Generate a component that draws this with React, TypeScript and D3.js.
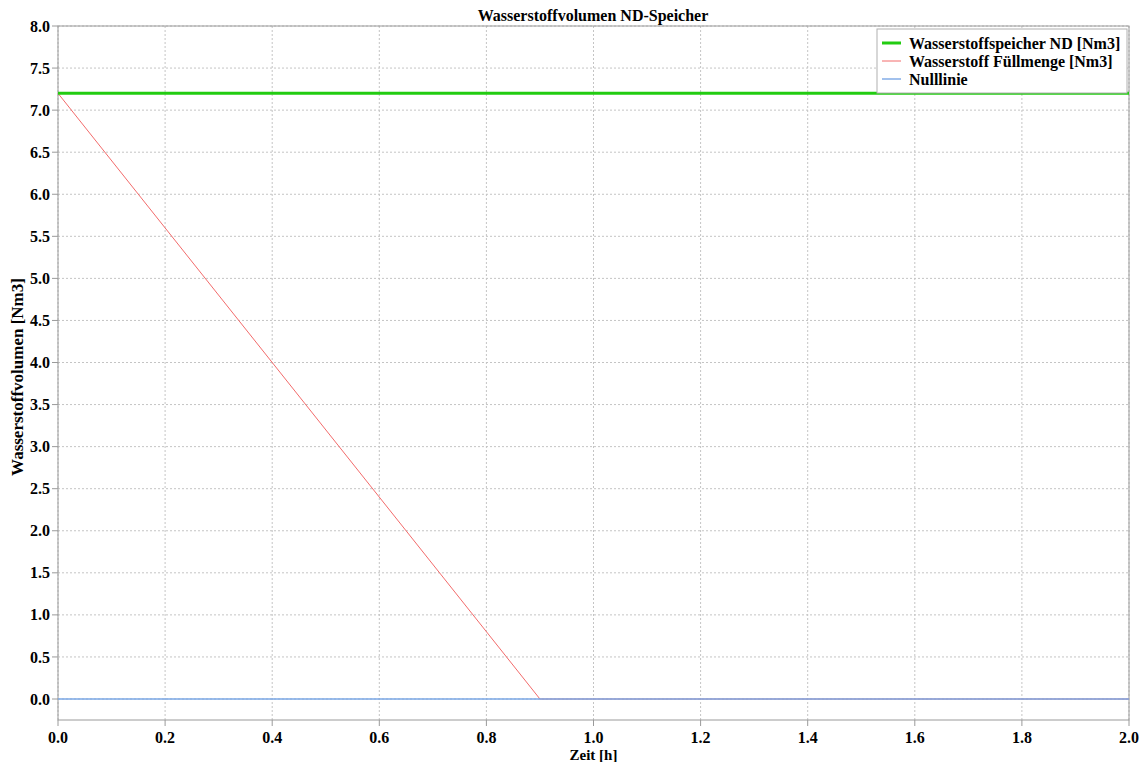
import * as d3 from 'd3';

const timeH = [0, 0.9, 2.0];
const speicherND = [7.2, 7.2, 7.2];
const fuellmenge = [7.2, 0, 0];
const nulllinie = [0, 0, 0];

const xTicks = [0, 0.2, 0.4, 0.6, 0.8, 1.0, 1.2, 1.4, 1.6, 1.8, 2.0];
const yTicks = [0, 0.5, 1, 1.5, 2, 2.5, 3, 3.5, 4, 4.5, 5, 5.5, 6, 6.5, 7, 7.5, 8];

const series = [
  { name: 'Wasserstoffspeicher ND [Nm3]', values: speicherND, color: '#22cc11', width: 3 },
  { name: 'Wasserstoff Füllmenge [Nm3]', values: fuellmenge, color: '#f26b6b', width: 1 },
  { name: 'Nulllinie', values: nulllinie, color: '#7aa7e6', width: 1.4 },
];

const W = 1146;
const H = 762;
const font = '"Liberation Serif", "Times New Roman", serif';

export default function App() {
  const left = 58, right = 1129, top = 26, bottom = 720;
  const x = d3.scaleLinear().domain([0, 2]).range([left, right]);
  const y = d3.scaleLinear().domain([0, 8]).range([699, top]);

  const line = d3.line<number>()
    .x((_, i) => x(timeH[i]))
    .y((d) => y(d));

  // red first so the zero line sits on top of it after 0.9 h
  const drawOrder = [series[1], series[2], series[0]];

  return (
    <div style={{ position: 'fixed', left: 0, top: 0 }}>
      <svg width={W} height={H} style={{ display: 'block', background: '#fff' }} fontFamily={font}>
        <text x={593} y={21} textAnchor="middle" fontWeight="bold" fontSize={16}>
          Wasserstoffvolumen ND-Speicher
        </text>

        {/* grid */}
        {xTicks.map((t) => (
          <line key={'gx' + t} x1={x(t)} x2={x(t)} y1={top} y2={bottom}
            stroke="#c4c4c4" strokeDasharray="2,2" strokeWidth={1} />
        ))}
        {yTicks.map((t) => (
          <line key={'gy' + t} x1={left} x2={right} y1={y(t)} y2={y(t)}
            stroke="#c4c4c4" strokeDasharray="2,2" strokeWidth={1} />
        ))}

        {/* frame */}
        <rect x={left} y={top} width={right - left} height={bottom - top}
          fill="none" stroke="#9a9a9a" strokeWidth={1} />

        {/* ticks */}
        {yTicks.map((t) => (
          <g key={'ty' + t}>
            <line x1={left - 6} x2={left} y1={y(t)} y2={y(t)} stroke="#9a9a9a" />
            <text x={left - 8} y={y(t)} dy="0.35em" textAnchor="end" fontWeight="bold" fontSize={16}>
              {t.toFixed(1)}
            </text>
          </g>
        ))}
        {xTicks.map((t) => (
          <g key={'tx' + t}>
            <line x1={x(t)} x2={x(t)} y1={bottom} y2={bottom + 6} stroke="#9a9a9a" />
            <text x={x(t)} y={bottom + 23} textAnchor="middle" fontWeight="bold" fontSize={16}>
              {t.toFixed(1)}
            </text>
          </g>
        ))}

        <text x={(left + right) / 2} y={760} textAnchor="middle" fontWeight="bold" fontSize={15}>
          Zeit [h]
        </text>
        <text transform={`translate(23, ${(top + bottom) / 2 + 4}) rotate(-90)`} textAnchor="middle"
          fontWeight="bold" fontSize={17}>
          Wasserstoffvolumen [Nm3]
        </text>

        {/* lines */}
        {drawOrder.map((s) => (
          <path key={s.name} d={line(s.values) || ''} fill="none" stroke={s.color} strokeWidth={s.width} />
        ))}

        {/* legend */}
        <g>
          <rect x={877} y={29} width={250} height={64} fill="#fff" stroke="#b0b0b0" strokeWidth={1} />
          {series.map((s, i) => (
            <g key={'lg' + s.name} transform={`translate(882, ${43 + i * 18})`}>
              <line x1={0} x2={19} y1={0} y2={0} stroke={s.color} strokeWidth={s.width} />
              <text x={27} y={0} dy="0.35em" fontWeight="bold" fontSize={16}>{s.name}</text>
            </g>
          ))}
        </g>
      </svg>
    </div>
  );
}
